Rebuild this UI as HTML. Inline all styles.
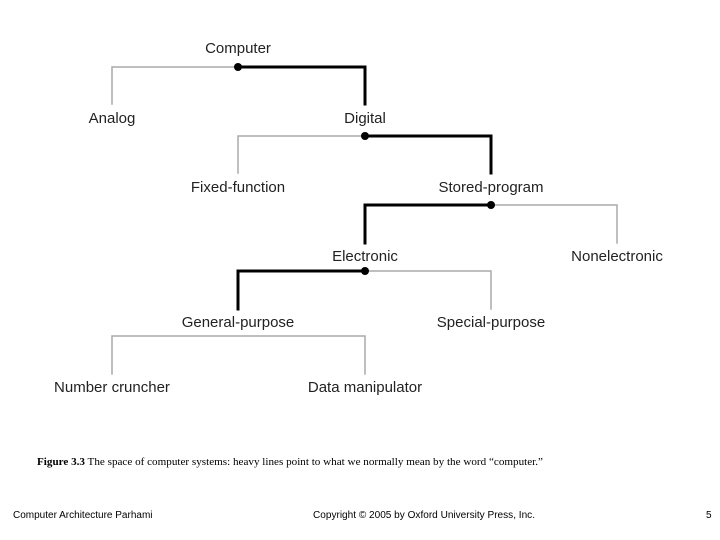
<!DOCTYPE html>
<html><head><meta charset="utf-8"><style>
html,body{margin:0;padding:0;background:#fff;}
svg{display:block;}
</style></head><body>
<svg width="720" height="540" xmlns="http://www.w3.org/2000/svg">
<g fill="none" stroke-linecap="square">
<g stroke="#aaa" stroke-width="1.5">
<polyline points="238,67 112,67 112,104"/>
<polyline points="365,136 238,136 238,173"/>
<polyline points="491,205 617,205 617,243"/>
<polyline points="365,271 491,271 491,309"/>
<polyline points="112,374 112,336 365,336 365,374"/>
</g>
<g stroke="#000" stroke-width="3">
<polyline points="238,67 365,67 365,104"/>
<polyline points="365,136 491,136 491,173"/>
<polyline points="491,205 365,205 365,243"/>
<polyline points="365,271 238,271 238,309"/>
</g>
</g>
<g fill="#000">
<circle cx="238" cy="67" r="4"/>
<circle cx="365" cy="136" r="4"/>
<circle cx="491" cy="205" r="4"/>
<circle cx="365" cy="271" r="4"/>
</g>
<g font-family="Liberation Sans, sans-serif" font-size="15" fill="#222" text-anchor="middle">
<text x="238" y="53">Computer</text>
<text x="112" y="123">Analog</text>
<text x="365" y="123">Digital</text>
<text x="238" y="192">Fixed-function</text>
<text x="491" y="192">Stored-program</text>
<text x="365" y="261">Electronic</text>
<text x="617" y="261">Nonelectronic</text>
<text x="238" y="327">General-purpose</text>
<text x="491" y="327">Special-purpose</text>
<text x="112" y="392">Number cruncher</text>
<text x="365" y="392">Data manipulator</text>
</g>
<text x="37" y="465" font-family="Liberation Serif, serif" font-size="10" fill="#000" textLength="506" lengthAdjust="spacingAndGlyphs"><tspan font-weight="bold">Figure 3.3</tspan>  The space of computer systems: heavy lines point to what we normally mean by the word “computer.”</text>
<g font-family="Liberation Sans, sans-serif" font-size="10" fill="#000">
<text x="13" y="518">Computer Architecture    Parhami</text>
<text x="313" y="518" textLength="222" lengthAdjust="spacingAndGlyphs">Copyright © 2005 by Oxford University Press, Inc.</text>
<text x="706" y="518">5</text>
</g>
</svg>
</body></html>
